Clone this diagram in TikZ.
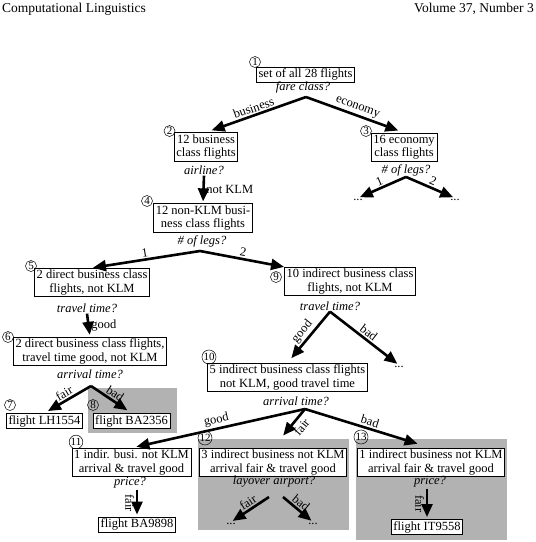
\documentclass[tikz,border=0pt]{standalone}
\usepackage{fontspec}
\setmainfont{Liberation Serif}
\usetikzlibrary{arrows.meta}

\begin{document}
\begin{tikzpicture}
[x=1pt,y=-1pt,
 every node/.style={inner sep=1pt,font=\fontsize{12.5}{13.5}\selectfont},
 box/.style={draw,fill=white,line width=0.8pt,align=center,inner xsep=2.2pt,inner ysep=1.8pt},
 ask/.style={font=\fontsize{12.5}{13.5}\selectfont\itshape},
 num/.style={draw,circle,line width=0.5pt,inner sep=0.3pt,minimum size=11pt,font=\fontsize{11}{11}\selectfont},
 arr/.style={line width=2.6pt,-{Triangle[length=13pt,width=11pt]},shorten >=2pt},
 lbl/.style={inner sep=1.5pt},
 grayarea/.style={fill=black!30}]
\useasboundingbox (0,0) rectangle (536,542);

% running head
\node[anchor=west,font=\fontsize{13.5}{14}\selectfont] (headl) at (1,9) {Computational Linguistics};
\node[anchor=east,font=\fontsize{13.5}{14}\selectfont] (headr) at (535,9) {Volume 37, Number 3};

% grey areas
\fill[grayarea] (88,388) rectangle (177,433);
\fill[grayarea] (198,439) rectangle (349,530);
\fill[grayarea] (356,439) rectangle (507,540);

% flight sets
\node[box] (n1) at (305.5,74.5) {set of all 28 flights};
\node[box] (n2) at (206,147) {12 business\\class flights};
\node[box] (n3) at (404,147) {16 economy\\class flights};
\node[box] (n4) at (203,218) {12 non-KLM busi-\\ness class flights};
\node[box] (n5) at (92,282.5) {2 direct business class\\flights, not KLM};
\node[box] (n6) at (90,351.5) {2 direct business class flights,\\travel time good, not KLM};
\node[box] (n7) at (44.5,421) {flight LH1554};
\node[box] (n8) at (131.5,421) {flight BA2356};
\node[box] (n9) at (350,281.5) {10 indirect business class\\flights, not KLM};
\node[box] (n10) at (287.5,377.5) {5 indirect business class flights\\not KLM, good travel time};
\node[box] (n11) at (131.5,462.5) {1 indir. busi. not KLM\\arrival \& travel good};
\node[box] (n12) at (273,462.5) {3 indirect business not KLM\\arrival fair \& travel good};
\node[box] (n13) at (431,462.5) {1 indirect business not KLM\\arrival fair \& travel good};
\node[box] (n14) at (137,524.5) {flight BA9898};
\node[box] (n15) at (427,527) {flight IT9558};

% numbers
\foreach \name/\x/\y/\num in {c1/255/62/1,c2/169.5/131/2,c3/366/131/3,c4/147/201/4,
  c5/31/266/5,c6/8/337/6,c7/10/405/7,c8/93/405/8,c9/276/277/9,c10/209/357/10,
  c11/76/442/11,c12/205/438/12,c13/361/437/13}
  \node[num] (\name) at (\x,\y) {\num};

% questions
\node[ask] (q1) at (303,87) {fare class?};
\node[ask] (q2) at (204,170) {airline?};
\node[ask] (q3) at (406,170) {\# of legs?};
\node[ask] (q4) at (202,241) {\# of legs?};
\node[ask] (q5) at (87,308) {travel time?};
\node[ask] (q6) at (90,374) {arrival time?};
\node[ask] (q9) at (330,306) {travel time?};
\node[ask] (q10) at (296,401) {arrival time?};
\node[ask] (q11) at (130,483) {price?};
\node[ask] (q12) at (274,482) {layover airport?};
\node[ask] (q13) at (430,482) {price?};

% where the branches split
\coordinate (a1) at (306,97);
\coordinate (a4) at (200,251);
\coordinate (a6) at (91,386);
\coordinate (a10) at (305,409);
\coordinate (a12l) at (269,497);
\coordinate (a12r) at (283,497);

% open ends
\node (d3a) at (358,200) {...};
\node (d3b) at (455,200) {...};
\node (d9) at (399,367) {...};
\node (d12a) at (231,524) {...};
\node (d12b) at (313,524) {...};

% answers
\draw[arr,shorten >=6pt] (a1) -- node[lbl,above,sloped] {business} (n2.north);
\draw[arr,shorten >=6pt] (a1) -- node[lbl,above,sloped] {economy} (n3.north);
\draw[arr] (q2.south) -- node[lbl,right] {not KLM} (n4.north);
\draw[arr] (q3.south) -- node[lbl,above,sloped] {1} (d3a.north);
\draw[arr] (q3.south) -- node[lbl,above,sloped] {2} (d3b.north);
\draw[arr,shorten >=1pt] (a4) -- node[lbl,above,sloped] {1} (n5.north);
\draw[arr,shorten >=0pt] (a4) -- node[lbl,above,sloped] {2} (n9.north west);
\draw[arr] (q5.south) -- node[lbl,right] {good} (n6.north);
\draw[arr,shorten >=4pt] (a6) -- node[lbl,above,sloped] {fair} (n7.north);
\draw[arr,shorten >=5pt] (a6) -- node[lbl,above,sloped] {bad} (n8.north);
\draw[arr,shorten >=6pt] (q9.south) -- node[lbl,above,sloped] {good} (n10.north);
\draw[arr] (q9.south) -- node[lbl,above,sloped] {bad} (d9.north);
\draw[arr,shorten >=5pt] (a10) -- node[lbl,above,sloped] {good} (n11.north);
\draw[arr,shorten >=16pt] (a10) -- node[lbl,below,sloped,pos=0.32,inner sep=3pt] {fair} (n12.north);
\draw[arr,shorten >=14pt] (a10) -- node[lbl,above,sloped] {bad} (n13.north);
\draw[arr] (q11.south -| n14.north) -- node[lbl,below,sloped] {fair} (n14.north);
\draw[arr] (a12l) -- node[lbl,above,sloped,pos=0.45] {fair} (d12a.north);
\draw[arr] (a12r) -- node[lbl,above,sloped,pos=0.45] {bad} (d12b.north);
\draw[arr] (q13.south -| n15.north) -- node[lbl,below,sloped] {fair} (n15.north);
\end{tikzpicture}
\end{document}
